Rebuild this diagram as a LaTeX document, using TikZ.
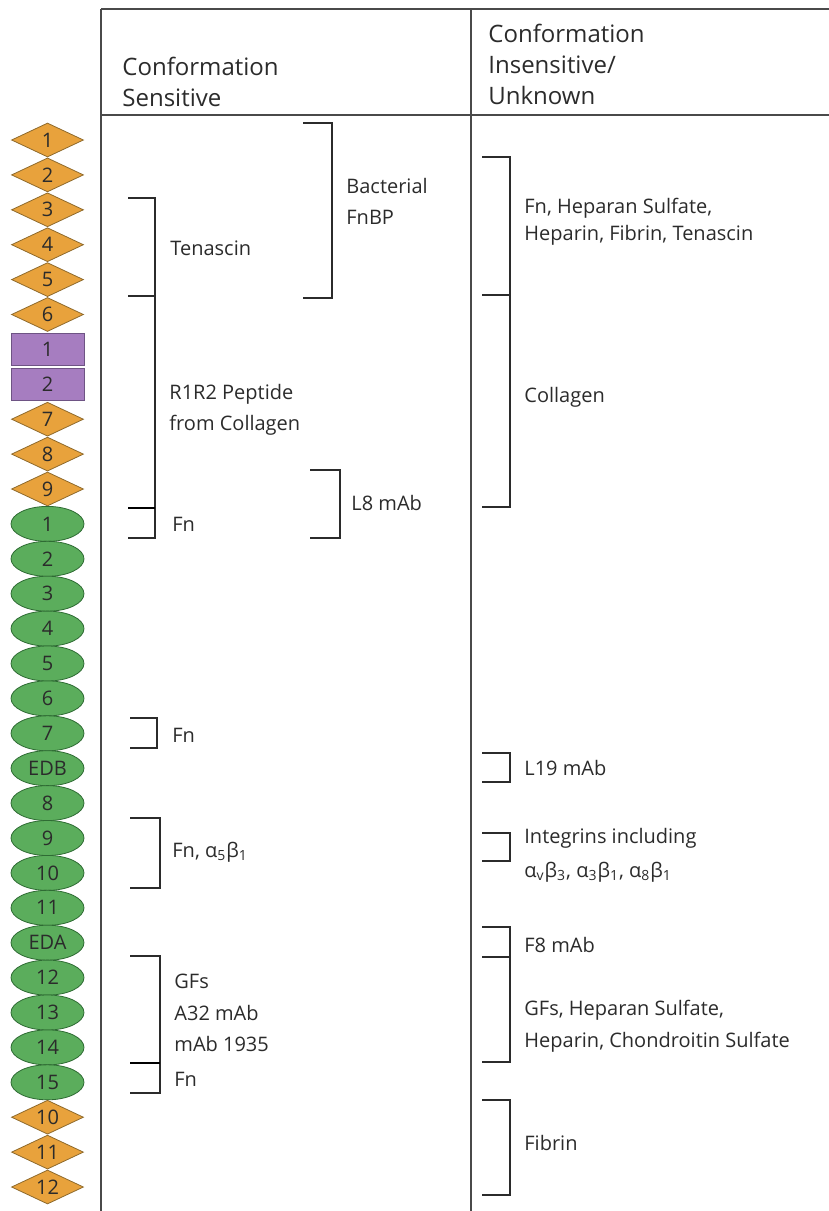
\documentclass[tikz,border=0pt]{standalone}
\usepackage{fontspec}
\setmainfont{Open Sans}
\usetikzlibrary{shapes.geometric,positioning}
\definecolor{fnorange}{HTML}{E8A23C}
\definecolor{fnorangeline}{HTML}{8E6A2C}
\definecolor{fnpurple}{HTML}{A67DC0}
\definecolor{fnpurpleline}{HTML}{6E5484}
\definecolor{fngreen}{HTML}{5BAD5C}
\definecolor{fngreenline}{HTML}{2E6B33}
\definecolor{inkgray}{HTML}{2B2B2B}
\definecolor{rulegray}{HTML}{4A4A4A}
\newcommand{\sbs}[1]{\textsubscript{#1}}
\tikzset{
    every node/.style={font=\fontsize{10}{15.5}\selectfont,text=inkgray},
    typeone/.style={diamond,aspect=2,draw=fnorangeline,fill=fnorange,minimum width=36pt,minimum height=17pt,inner sep=0pt},
    typetwo/.style={rectangle,draw=fnpurpleline,fill=fnpurple,minimum width=36.5pt,minimum height=16pt,inner sep=0pt},
    typethree/.style={ellipse,draw=fngreenline,fill=fngreen,minimum width=36.5pt,minimum height=17.5pt,inner sep=0pt},
    head/.style={anchor=west,align=left,inner sep=0pt,font=\fontsize{12}{15.5}\selectfont},
    ligand/.style={anchor=west,align=left,inner sep=0pt},
    bracket/.style={draw=inkgray,line width=0.8pt},
    strongtick/.style={draw=black,line width=1.4pt},
    tablerule/.style={draw=rulegray,line width=1.1pt}
}
\begin{document}
\begin{tikzpicture}[x=0.5pt,y=-0.5pt]
    \useasboundingbox (0,0) rectangle (829,1211);
    % table
    \draw[tablerule] (101,9) -- (829,9);
    \draw[tablerule] (101,115) -- (829,115);
    \draw[tablerule] (101,9) -- (101,1211);
    \draw[tablerule] (471,9) -- (471,1211);
    \node[head] (hsens) at (122,82) {Conformation\\Sensitive};
    \node[head] (hinsens) at (488,64) {Conformation\\Insensitive/\\Unknown};
    % modules of fibronectin
    \foreach \kind/\txt [count=\i from 0] in {typeone/1,typeone/2,typeone/3,typeone/4,typeone/5,typeone/6,
        typetwo/1,typetwo/2,typeone/7,typeone/8,typeone/9,
        typethree/1,typethree/2,typethree/3,typethree/4,typethree/5,typethree/6,typethree/7,typethree/EDB,
        typethree/8,typethree/9,typethree/10,typethree/11,typethree/EDA,typethree/12,typethree/13,typethree/14,typethree/15,
        typeone/10,typeone/11,typeone/12}
        \node[\kind] (mod\i) at (47.5,{140+34.9*\i}) {\txt};
    % conformation sensitive
    \draw[bracket] (128,198) -- (155,198) -- (155,538) -- (128,538);
    \draw[bracket] (128,296) -- (155,296);
    \draw[strongtick] (128,508) -- (155,508);
    \node[ligand] (tenascin) at (170,248) {Tenascin};
    \node[ligand] (rpeptide) at (169,410) {R1R2 Peptide\\from Collagen};
    \node[ligand] (fnA) at (172,524) {Fn};
    \draw[bracket] (303,123) -- (332,123) -- (332,298) -- (303,298);
    \node[ligand] (fnbp) at (346,201) {Bacterial\\FnBP};
    \draw[bracket] (310,470) -- (340,470) -- (340,538) -- (310,538);
    \node[ligand] (leight) at (351,503) {L8 mAb};
    \draw[bracket] (130,718) -- (157,718) -- (157,748) -- (130,748);
    \node[ligand] (fnB) at (172,735) {Fn};
    \draw[bracket] (130,818) -- (160,818) -- (160,888) -- (130,888);
    \node[ligand] (fnint) at (172,852) {Fn, α\sbs{5}β\sbs{1}};
    \draw[bracket] (130,956) -- (160,956) -- (160,1093) -- (130,1093);
    \draw[strongtick] (130,1063) -- (160,1063);
    \node[ligand,font=\fontsize{10}{15.75}\selectfont] (gfs) at (174,1013) {GFs\\A32 mAb\\mAb 1935};
    \node[ligand] (fnC) at (174,1079) {Fn};
    % conformation insensitive / unknown
    \draw[bracket] (482,157) -- (510,157) -- (510,507) -- (482,507);
    \draw[bracket,line width=1pt] (482,295) -- (510,295);
    \node[ligand,font=\fontsize{10}{13.5}\selectfont] (heparan) at (524,222) {Fn, Heparan Sulfate,\\Heparin, Fibrin, Tenascin};
    \node[ligand] (collagen) at (524,397) {Collagen};
    \draw[bracket] (482,753) -- (510,753) -- (510,782) -- (482,782);
    \node[ligand] (lnineteen) at (524,768) {L19 mAb};
    \draw[bracket] (482,833) -- (510,833) -- (510,861) -- (482,861);
    \node[ligand,font=\fontsize{10}{17}\selectfont] (integrins) at (524,855) {Integrins including\\α\sbs{v}β\sbs{3}, α\sbs{3}β\sbs{1}, α\sbs{8}β\sbs{1}};
    \draw[bracket] (482,927) -- (510,927) -- (510,1062) -- (482,1062);
    \draw[bracket] (482,957) -- (510,957);
    \node[ligand] (feight) at (524,945) {F8 mAb};
    \node[ligand,font=\fontsize{10}{16}\selectfont] (gfsheparan) at (524,1026) {GFs, Heparan Sulfate,\\Heparin, Chondroitin Sulfate};
    \draw[bracket] (482,1100) -- (510,1100) -- (510,1195) -- (482,1195);
    \node[ligand] (fibrin) at (524,1143) {Fibrin};
\end{tikzpicture}
\end{document}
